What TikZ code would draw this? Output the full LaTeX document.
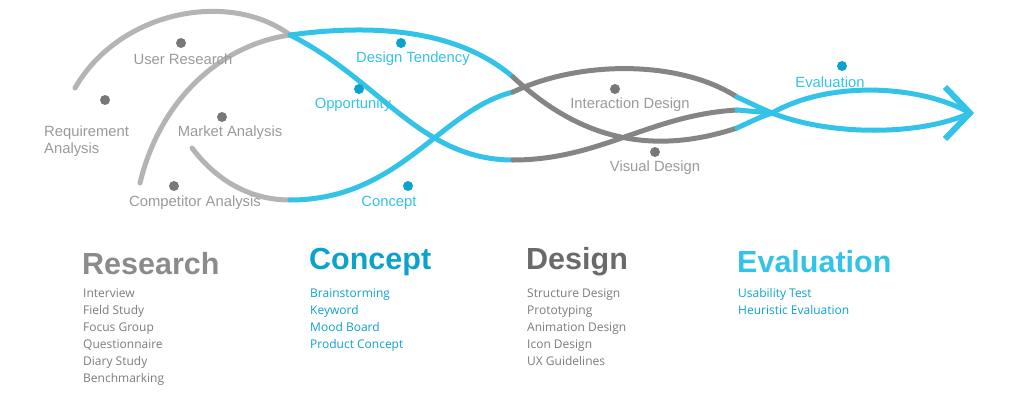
\documentclass[tikz,border=0pt]{standalone}
\usepackage{fontspec}
\setmainfont{Liberation Sans}
\newfontfamily\listfont{Open Sans}
\usetikzlibrary{positioning}
\definecolor{lgray}{HTML}{B4B4B4}
\definecolor{dgray}{HTML}{858585}
\definecolor{cyanb}{HTML}{33C3E8}
\definecolor{dotb}{HTML}{0CA2CE}
\definecolor{txtgray}{HTML}{9A9A9A}
\tikzset{
  wave/.style={line width=5pt, line cap=round},
  dotg/.style={circle, fill=dgray!90!black, minimum size=10pt, inner sep=0pt},
  dotc/.style={circle, fill=dotb, minimum size=10pt, inner sep=0pt},
  lab/.style={font=\fontsize{14.8}{17}\selectfont, inner sep=0pt},
  head/.style={font=\bfseries\fontsize{30.5}{31}\selectfont, anchor=west, inner sep=0pt},
  items/.style={font=\listfont\fontsize{12}{17}\selectfont, anchor=north west, align=left, inner sep=0pt}
}
\begin{document}
\begin{tikzpicture}[x=1pt, y=-1pt]
  \useasboundingbox (0,0) rectangle (1024,412);
  % Define points
  \coordinate (J1) at (290,35);
  \coordinate (J2) at (290,200);
  \coordinate (A) at (513,77);
  \coordinate (B) at (513,92);
  \coordinate (C) at (513,160);
  \coordinate (P) at (737,97);
  \coordinate (Q) at (737,110);
  \coordinate (R) at (737,128);
  \coordinate (X) at (772,113);
  \coordinate (T) at (970,113);

  % Research
  \draw[wave, lgray] (75,88) .. controls (120,10) and (230,-10) .. (J1);
  \draw[wave, lgray] (140,183) .. controls (160,100) and (220,45) .. (J1);
  \draw[wave, lgray] (192,148) .. controls (220,185) and (255,200) .. (J2);
  % Concept
  \draw[wave, cyanb] (J1) .. controls (400,20) and (470,40) .. (A);
  \draw[wave, cyanb] (J1) .. controls (380,80) and (420,160) .. (C);
  \draw[wave, cyanb] (J2) .. controls (400,200) and (440,110) .. (B);
  % Design
  \draw[wave, dgray] (B) .. controls (580,60) and (680,60) .. (P);
  \draw[wave, dgray] (A) .. controls (570,130) and (640,160) .. (R);
  \draw[wave, dgray] (C) .. controls (600,160) and (650,115) .. (Q);
  % Evaluation
  \draw[wave, cyanb] (P) .. controls (750,103) and (760,108) .. (X);
  \draw[wave, cyanb] (Q) -- (X);
  \draw[wave, cyanb] (R) .. controls (750,122) and (760,117) .. (X);
  \draw[wave, cyanb] (X) .. controls (830,80) and (920,85) .. (T);
  \draw[wave, cyanb] (X) .. controls (830,136) and (920,136) .. (T);
  \draw[wave, cyanb, line width=6pt, line cap=butt, line join=miter] (945,87) -- (T) -- (945,139);

  % Markers
  \node[dotg] (ur) at (181,43) {};
  \node[lab, txtgray] at (183,59) {User Research};
  \node[dotg] (ra) at (105,100) {};
  \node[lab, txtgray, align=left, anchor=north west, font=\fontsize{14.8}{17}\selectfont] at (44,126) {Requirement\\Analysis};
  \node[dotg] (ma) at (222,117) {};
  \node[lab, txtgray] at (230,133) {Market Analysis};
  \node[dotg] (ca) at (174,186) {};
  \node[lab, txtgray] at (195,203) {Competitor Analysis};
  \node[dotc] (dt) at (401,43) {};
  \node[lab, cyanb] at (413,59) {Design Tendency};
  \node[dotc] (op) at (359,89) {};
  \node[lab, cyanb] at (353,105) {Opportunity};
  \node[dotc] (co) at (408,186) {};
  \node[lab, cyanb] at (389,203) {Concept};
  \node[dotc] (ev) at (842,66) {};
  \node[lab, cyanb] at (830,82) {Evaluation};
  \node[dotg] (id) at (615,89) {};
  \node[lab, txtgray] at (630,105) {Interaction Design};
  \node[dotg] (vd) at (655,152) {};
  \node[lab, txtgray] at (655,168) {Visual Design};

  % Phases
  \node[head, txtgray!90!black] (research) at (82,264) {Research};
  \node[items, txtgray!80!black] at (83,288) {Interview\\Field Study\\Focus Group\\Questionnaire\\Diary Study\\Benchmarking};
  \node[head, dotb] (concept) at (309,262) {Concept};
  \node[items, dotb] at (310,288) {Brainstorming\\Keyword\\Mood Board\\Product Concept};
  \node[head, dgray!80!black] (design) at (526,262) {Design};
  \node[items, txtgray!80!black] at (527,288) {Structure Design\\Prototyping\\Animation Design\\Icon Design\\UX Guidelines};
  \node[head, cyanb] (evaluation) at (737,262) {Evaluation};
  \node[items, dotb] at (738,288) {Usability Test\\Heuristic Evaluation};
\end{tikzpicture}
\end{document}
